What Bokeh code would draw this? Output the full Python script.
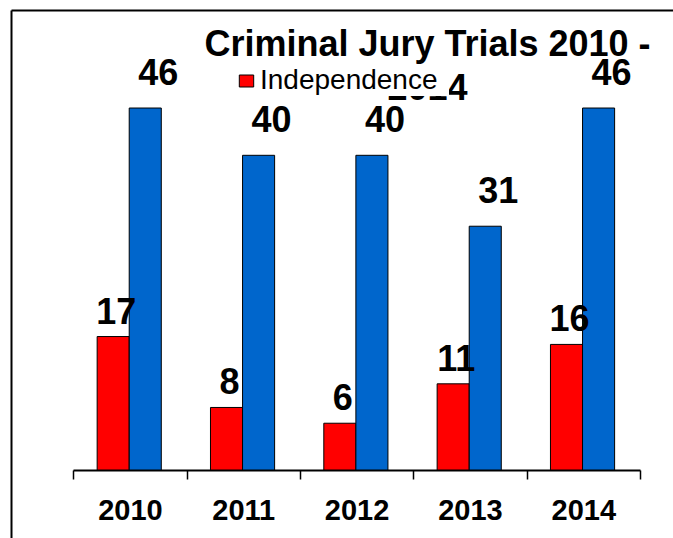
from bokeh.plotting import figure
from bokeh.models import (Range1d, LinearAxis, FixedTicker, Label, Legend,
                          LegendItem, ColumnDataSource)
from bokeh.embed import file_html
from bokeh.resources import INLINE
from bokeh.core.properties import value

# ---- data ----
years = ["2010", "2011", "2012", "2013", "2014"]
independence = [17, 8, 6, 11, 16]
statewide = [46, 40, 40, 31, 46]
series_name = "Independence"
title_text = "Criminal Jury Trials 2010 -\n2014"

# ---- geometry ----
W, H = 673, 538
cat_px = 113.33          # pixels per category
left_boundary_px = 73.3  # first category boundary from figure left
zero_px = 470            # value 0 from figure top
unit_px = 7.88           # pixels per unit value

x_start = -0.5 - left_boundary_px / cat_px
x_end = x_start + W / cat_px
y_end = zero_px / unit_px
y_start = y_end - H / unit_px

FONT_NAME = "Liberation Sans"
FONT = value(FONT_NAME)

p = figure(width=W, height=H, x_range=Range1d(x_start, x_end),
           y_range=Range1d(y_start, y_end), x_axis_type=None, y_axis_type=None,
           toolbar_location=None, output_backend="svg", min_border=0,
           outline_line_color=None, background_fill_color="white",
           border_fill_color="white")

# ---- chart border (only top and left edges fall inside the picture) ----
bx = x_start + 11 / cat_px
by = y_end - 10 / unit_px
p.segment(x0=[bx, bx], y0=[by, by], x1=[bx, x_end + 1], y1=[y_start - 1, by],
          line_color="black", line_width=2)

idx = list(range(len(years)))
bw = 0.283
shift = -0.011
src = ColumnDataSource(dict(
    years=years,
    red_x=[i + shift - bw / 2 for i in idx],
    blue_x=[i + shift + bw / 2 for i in idx],
    ind=independence,
    st=statewide,
    ind_lbl=[str(v) for v in independence],
    st_lbl=[str(v) for v in statewide],
))

red = p.vbar(x="red_x", top="ind", bottom=0, width=bw, source=src,
             fill_color="#FF0000", line_color="black", line_width=1)
blue = p.vbar(x="blue_x", top="st", bottom=0, width=bw, source=src,
              fill_color="#0066CC", line_color="black", line_width=1)

p.text(x="red_x", y="ind", text="ind_lbl", source=src, text_font=FONT,
       text_font_style="bold", text_font_size="36px", text_color="black",
       text_align="center", text_baseline="alphabetic", x_offset=3, y_offset=-26)
p.text(x="blue_x", y="st", text="st_lbl", source=src, text_font=FONT,
       text_font_style="bold", text_font_size="36px", text_color="black",
       text_align="center", text_baseline="alphabetic", x_offset=13, y_offset=-36)

# ---- category axis: ticks at boundaries, labels at centres ----
ax = LinearAxis(
    fixed_location=0,
    ticker=FixedTicker(ticks=idx, minor_ticks=[i - 0.5 for i in range(len(years) + 1)]),
    bounds=(-0.5, len(years) - 0.5),
    major_label_overrides={i: y for i, y in zip(idx, years)},
    axis_line_color="black", axis_line_width=2,
    major_tick_line_color=None, major_tick_in=0, major_tick_out=0,
    minor_tick_line_color="black", minor_tick_line_width=1.5,
    minor_tick_in=0, minor_tick_out=9,
    major_label_text_font=FONT_NAME, major_label_text_font_style="bold",
    major_label_text_font_size="29px", major_label_text_color="black",
    major_label_standoff=20,
)
p.add_layout(ax, "below")

# ---- title (partly hidden by the legend) ----
p.add_layout(Label(x=427, y=516, x_units="screen", y_units="screen",
                   text=title_text, text_font=FONT_NAME, text_font_style="bold",
                   text_font_size="36px", text_color="black",
                   text_align="center", text_baseline="top",
                   text_line_height=1.08))

legend = Legend(items=[LegendItem(label=series_name, renderers=[red])],
                location=(237, 442), orientation="horizontal",
                background_fill_color="white", background_fill_alpha=1,
                border_line_color=None,
                padding=4, margin=0, spacing=0,
                glyph_width=18, glyph_height=15, label_standoff=5,
                label_width=189, label_height=25,
                label_text_font=FONT_NAME, label_text_font_size="28px",
                label_text_color="black")
p.add_layout(legend)

open("out.html", "w").write(file_html(p, INLINE))
